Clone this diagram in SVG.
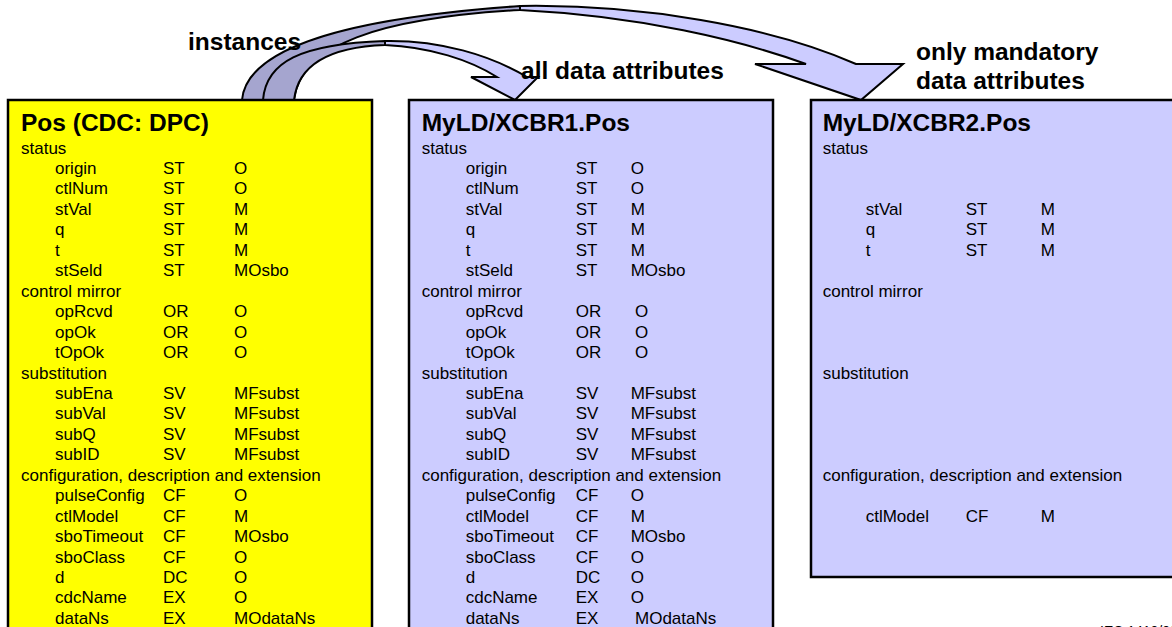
<svg xmlns="http://www.w3.org/2000/svg" width="1172" height="627" viewBox="0 0 1172 627">
<style>
.t{font-family:"Liberation Sans",Arial,sans-serif;font-size:17px;fill:#000}
.h{font-family:"Liberation Sans",Arial,sans-serif;font-size:24.5px;font-weight:bold;fill:#000}
.box{stroke:#000;stroke-width:2.5}
.dark{fill:#A5A5CF;stroke:#000;stroke-width:2;stroke-linejoin:round}
.light{fill:#CCCCFF;stroke:#000;stroke-width:2;stroke-linejoin:miter}
</style>
<rect width="1172" height="627" fill="#fff"/>
<g id="connectors">
  <g id="arrow-to-xcbr2">
    <path class="dark" d="M242,100 C246,55 320,20 520,6 L520,10 C380,18 300,45 294,100 Z"/>
    <path class="light" d="M520,6 C640,4 770,26 856,64 L903,64 L861,100 L755,64 L806,64 C740,40 640,16 520,10 Z"/>
  </g>
  <g id="arrow-to-xcbr1">
    <path class="dark" d="M263,100 C266,62 300,44 385,41 L385,45 C330,47 298,65 294,100 Z"/>
    <path class="light" d="M385,41 C440,40 490,55 527,77 L538,77 L515,100 L471,77 L497,77 C470,60 430,47 385,45 Z"/>
  </g>
</g>
<g id="node-pos-cdc">
  <rect class="box" x="8" y="100" width="364" height="540" fill="#FFFF00"/>
  <text class="h" x="21" y="131">Pos (CDC: DPC)</text>
  <text class="t" x="21" y="153.5">status</text>
  <text class="t" y="174"><tspan x="55">origin</tspan><tspan x="163">ST</tspan><tspan x="234">O</tspan></text>
  <text class="t" y="194.4"><tspan x="55">ctlNum</tspan><tspan x="163">ST</tspan><tspan x="234">O</tspan></text>
  <text class="t" y="214.9"><tspan x="55">stVal</tspan><tspan x="163">ST</tspan><tspan x="234">M</tspan></text>
  <text class="t" y="235.3"><tspan x="55">q</tspan><tspan x="163">ST</tspan><tspan x="234">M</tspan></text>
  <text class="t" y="255.8"><tspan x="55">t</tspan><tspan x="163">ST</tspan><tspan x="234">M</tspan></text>
  <text class="t" y="276.2"><tspan x="55">stSeld</tspan><tspan x="163">ST</tspan><tspan x="234">MOsbo</tspan></text>
  <text class="t" x="21" y="296.7">control mirror</text>
  <text class="t" y="317.1"><tspan x="55">opRcvd</tspan><tspan x="163">OR</tspan><tspan x="234">O</tspan></text>
  <text class="t" y="337.6"><tspan x="55">opOk</tspan><tspan x="163">OR</tspan><tspan x="234">O</tspan></text>
  <text class="t" y="358"><tspan x="55">tOpOk</tspan><tspan x="163">OR</tspan><tspan x="234">O</tspan></text>
  <text class="t" x="21" y="378.5">substitution</text>
  <text class="t" y="398.9"><tspan x="55">subEna</tspan><tspan x="163">SV</tspan><tspan x="234">MFsubst</tspan></text>
  <text class="t" y="419.4"><tspan x="55">subVal</tspan><tspan x="163">SV</tspan><tspan x="234">MFsubst</tspan></text>
  <text class="t" y="439.8"><tspan x="55">subQ</tspan><tspan x="163">SV</tspan><tspan x="234">MFsubst</tspan></text>
  <text class="t" y="460.3"><tspan x="55">subID</tspan><tspan x="163">SV</tspan><tspan x="234">MFsubst</tspan></text>
  <text class="t" x="21" y="480.7">configuration, description and extension</text>
  <text class="t" y="501.2"><tspan x="55">pulseConfig</tspan><tspan x="163">CF</tspan><tspan x="234">O</tspan></text>
  <text class="t" y="521.6"><tspan x="55">ctlModel</tspan><tspan x="163">CF</tspan><tspan x="234">M</tspan></text>
  <text class="t" y="542.1"><tspan x="55">sboTimeout</tspan><tspan x="163">CF</tspan><tspan x="234">MOsbo</tspan></text>
  <text class="t" y="562.5"><tspan x="55">sboClass</tspan><tspan x="163">CF</tspan><tspan x="234">O</tspan></text>
  <text class="t" y="583"><tspan x="55">d</tspan><tspan x="163">DC</tspan><tspan x="234">O</tspan></text>
  <text class="t" y="603.4"><tspan x="55">cdcName</tspan><tspan x="163">EX</tspan><tspan x="234">O</tspan></text>
  <text class="t" y="623.9"><tspan x="55">dataNs</tspan><tspan x="163">EX</tspan><tspan x="234">MOdataNs</tspan></text>
</g>
<g id="node-xcbr1-pos">
  <rect class="box" x="409" y="100" width="364" height="540" fill="#CCCCFF"/>
  <text class="h" x="421.7" y="131">MyLD/XCBR1.Pos</text>
  <text class="t" x="421.7" y="153.5">status</text>
  <text class="t" y="174"><tspan x="465.7">origin</tspan><tspan x="575.7">ST</tspan><tspan x="630.7">O</tspan></text>
  <text class="t" y="194.4"><tspan x="465.7">ctlNum</tspan><tspan x="575.7">ST</tspan><tspan x="630.7">O</tspan></text>
  <text class="t" y="214.9"><tspan x="465.7">stVal</tspan><tspan x="575.7">ST</tspan><tspan x="630.7">M</tspan></text>
  <text class="t" y="235.3"><tspan x="465.7">q</tspan><tspan x="575.7">ST</tspan><tspan x="630.7">M</tspan></text>
  <text class="t" y="255.8"><tspan x="465.7">t</tspan><tspan x="575.7">ST</tspan><tspan x="630.7">M</tspan></text>
  <text class="t" y="276.2"><tspan x="465.7">stSeld</tspan><tspan x="575.7">ST</tspan><tspan x="630.7">MOsbo</tspan></text>
  <text class="t" x="421.7" y="296.7">control mirror</text>
  <text class="t" y="317.1"><tspan x="465.7">opRcvd</tspan><tspan x="575.7">OR</tspan><tspan x="635">O</tspan></text>
  <text class="t" y="337.6"><tspan x="465.7">opOk</tspan><tspan x="575.7">OR</tspan><tspan x="635">O</tspan></text>
  <text class="t" y="358"><tspan x="465.7">tOpOk</tspan><tspan x="575.7">OR</tspan><tspan x="635">O</tspan></text>
  <text class="t" x="421.7" y="378.5">substitution</text>
  <text class="t" y="398.9"><tspan x="465.7">subEna</tspan><tspan x="575.7">SV</tspan><tspan x="630.7">MFsubst</tspan></text>
  <text class="t" y="419.4"><tspan x="465.7">subVal</tspan><tspan x="575.7">SV</tspan><tspan x="630.7">MFsubst</tspan></text>
  <text class="t" y="439.8"><tspan x="465.7">subQ</tspan><tspan x="575.7">SV</tspan><tspan x="630.7">MFsubst</tspan></text>
  <text class="t" y="460.3"><tspan x="465.7">subID</tspan><tspan x="575.7">SV</tspan><tspan x="630.7">MFsubst</tspan></text>
  <text class="t" x="421.7" y="480.7">configuration, description and extension</text>
  <text class="t" y="501.2"><tspan x="465.7">pulseConfig</tspan><tspan x="575.7">CF</tspan><tspan x="630.7">O</tspan></text>
  <text class="t" y="521.6"><tspan x="465.7">ctlModel</tspan><tspan x="575.7">CF</tspan><tspan x="630.7">M</tspan></text>
  <text class="t" y="542.1"><tspan x="465.7">sboTimeout</tspan><tspan x="575.7">CF</tspan><tspan x="630.7">MOsbo</tspan></text>
  <text class="t" y="562.5"><tspan x="465.7">sboClass</tspan><tspan x="575.7">CF</tspan><tspan x="630.7">O</tspan></text>
  <text class="t" y="583"><tspan x="465.7">d</tspan><tspan x="575.7">DC</tspan><tspan x="630.7">O</tspan></text>
  <text class="t" y="603.4"><tspan x="465.7">cdcName</tspan><tspan x="575.7">EX</tspan><tspan x="630.7">O</tspan></text>
  <text class="t" y="623.9"><tspan x="465.7">dataNs</tspan><tspan x="575.7">EX</tspan><tspan x="635">MOdataNs</tspan></text>
</g>
<g id="node-xcbr2-pos">
  <rect class="box" x="811" y="100" width="370" height="477" fill="#CCCCFF"/>
  <text class="h" x="822.7" y="131">MyLD/XCBR2.Pos</text>
  <text class="t" x="822.7" y="153.5">status</text>
  <text class="t" y="214.9"><tspan x="865.7">stVal</tspan><tspan x="965.7">ST</tspan><tspan x="1040.7">M</tspan></text>
  <text class="t" y="235.3"><tspan x="865.7">q</tspan><tspan x="965.7">ST</tspan><tspan x="1040.7">M</tspan></text>
  <text class="t" y="255.8"><tspan x="865.7">t</tspan><tspan x="965.7">ST</tspan><tspan x="1040.7">M</tspan></text>
  <text class="t" x="822.7" y="296.7">control mirror</text>
  <text class="t" x="822.7" y="378.5">substitution</text>
  <text class="t" x="822.7" y="480.7">configuration, description and extension</text>
  <text class="t" y="521.6"><tspan x="865.7">ctlModel</tspan><tspan x="965.7">CF</tspan><tspan x="1040.7">M</tspan></text>
</g>
<g id="labels">
  <text class="h" x="188" y="50">instances</text>
  <text class="h" x="521" y="79">all data attributes</text>
  <text class="h" x="916" y="60">only mandatory</text>
  <text class="h" x="916" y="89">data attributes</text>
  <text class="t" x="1100" y="636" style="font-size:14px">IEC  1410/03</text>
</g>
</svg>
